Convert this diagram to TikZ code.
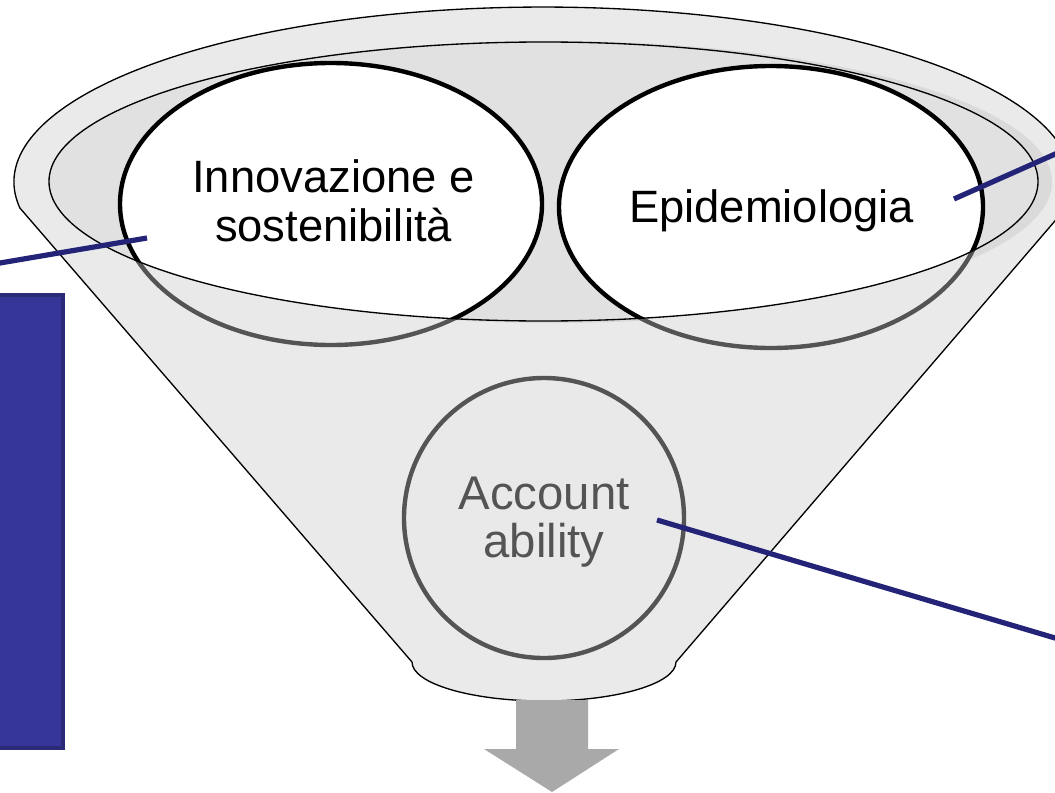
\documentclass[tikz,border=0pt]{standalone}
\usepackage{fontspec}
\setmainfont{Liberation Sans}
\usetikzlibrary{shapes.geometric}
\definecolor{navy}{RGB}{35,35,120}
\definecolor{boxblue}{RGB}{54,54,152}
\definecolor{boxedge}{RGB}{42,42,118}
\definecolor{conegray}{RGB}{204,204,204}
\definecolor{innergray}{RGB}{225,225,225}
\definecolor{shadowgray}{RGB}{228,228,228}
\definecolor{arrowgray}{RGB}{169,169,169}
\begin{document}
\begin{tikzpicture}[x=0.75pt,y=-0.75pt,
  bubble/.style={ellipse, draw=black, line width=3.3pt, fill=white, inner sep=0pt},
  label/.style={align=center, inner sep=0pt, font=\fontsize{34}{36.75}\selectfont},
  biglabel/.style={align=center, inner sep=0pt, font=\fontsize{35.5}{36}\selectfont},
  link/.style={draw=navy, line width=3.9pt},
  rim/.style={draw=black, line width=1pt},
  bluebox/.style={rectangle, fill=boxblue, draw=boxedge, line width=3pt, inner sep=0pt}]
\clip (0,0) rectangle (1055,792);
% shadow of the funnel mouth
\fill[shadowgray] (554,182) ellipse [x radius=498, y radius=141];
% inside of the funnel mouth
\fill[innergray] (543.5,181.5) ellipse [x radius=494.5, y radius=139.5];
% blue box at left
\node[bluebox, minimum width=62.25pt, minimum height=339.4pt] (box) at (21.5,521.25) {};
% bubbles
\node[bubble, minimum width=316.5pt, minimum height=211.5pt] (inn) at (331,204) {};
\node[label] (inntext) at (333.5,201) {Innovazione e\\sostenibilità};
\node[bubble, minimum width=318pt, minimum height=211.5pt] (epi) at (771,207) {};
\node[label] (epitext) at (771.5,210.7) {Epidemiologia};
\node[bubble, minimum width=210pt, minimum height=210pt] (acc) at (544,518) {};
\node[biglabel] (acctext) at (544,522) {Account\\ability};
% semi-transparent cone over the bubbles
\fill[conegray, fill opacity=0.416, even odd rule]
  (412,662) -- (19.8,207.9)
  arc[start angle=171.5, end angle=368.5, x radius=529, y radius=175]
  -- (676,662)
  arc[start angle=0, end angle=180, x radius=132, y radius=39] -- cycle
  (543.5,181.5) ellipse [x radius=494.5, y radius=139.5];
% funnel outlines
\draw[rim] (412,662) -- (19.8,207.9)
  arc[start angle=171.5, end angle=368.5, x radius=529, y radius=175]
  -- (676,662)
  arc[start angle=0, end angle=180, x radius=132, y radius=39] -- cycle;
\draw[rim] (543.5,181.5) ellipse [x radius=494.5, y radius=139.5];
% output arrow
\fill[arrowgray] (516,700) -- (588,700) -- (588,749) -- (619,749) -- (552,792)
  -- (484,749) -- (516,749) -- cycle;
% connectors
\coordinate (p1) at (147,238);
\coordinate (q1) at (-20,266.4);
\coordinate (p2) at (954,199);
\coordinate (q2) at (1080,143);
\coordinate (p3) at (657,520);
\coordinate (q3) at (1080,645.4);
\draw[link] (p1) -- (q1);
\draw[link] (p2) -- (q2);
\draw[link] (p3) -- (q3);
\end{tikzpicture}
\end{document}
